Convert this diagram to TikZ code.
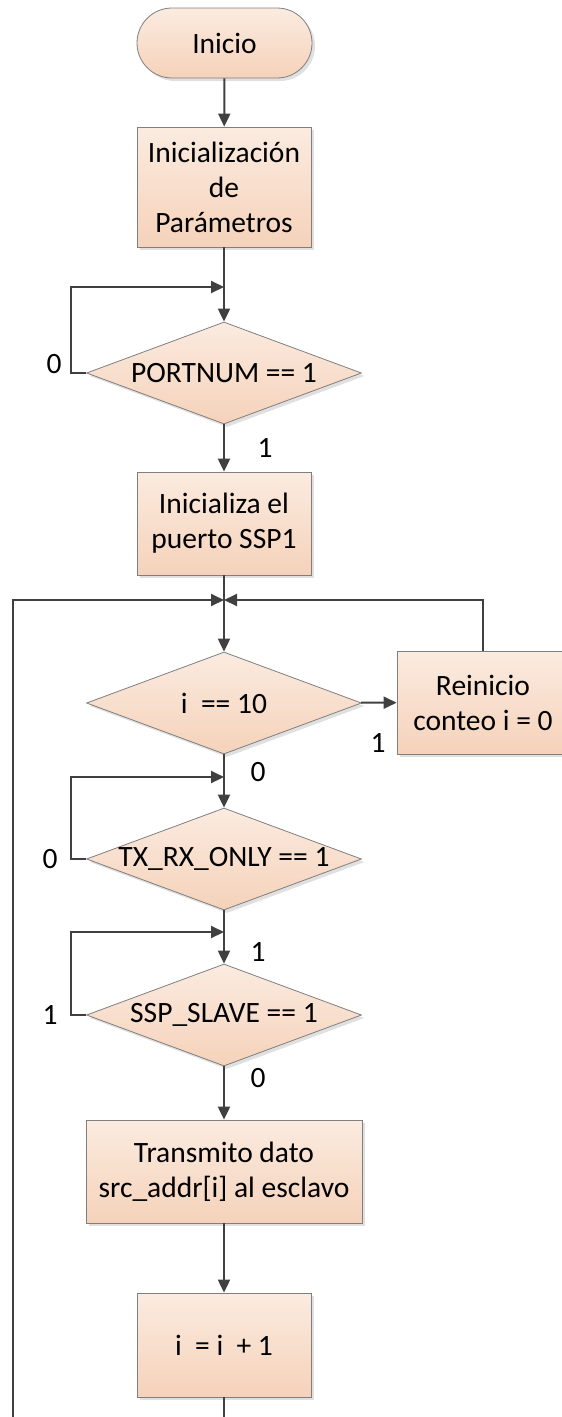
\documentclass[tikz,border=0pt]{standalone}
\usepackage{fontspec}
\setmainfont{Carlito}
\usetikzlibrary{shapes.geometric,arrows.meta,shadows}

\definecolor{linegray}{HTML}{404040}
\definecolor{edgegray}{HTML}{7F7F7F}
\definecolor{peachtop}{HTML}{FBEBE0}
\definecolor{peachbot}{HTML}{F5D2BA}

\begin{document}
\begin{tikzpicture}[x=1pt, y=-1pt,
  font=\fontsize{29.5}{35}\selectfont,
  base/.style={draw=edgegray, line width=0.8pt, top color=peachtop, bottom color=peachbot,
    inner sep=0pt, align=center, text=black,
    drop shadow={shadow xshift=3pt, shadow yshift=-3pt, fill=black!12, opacity=1}},
  terminal/.style={base, rectangle, rounded corners=35pt, minimum width=175pt, minimum height=70pt},
  proc/.style={base, rectangle, minimum width=174pt, minimum height=103pt},
  decision/.style={base, diamond, aspect=2.7, minimum width=275pt, minimum height=102pt},
  flow/.style={draw=linegray, line width=2pt, -{Triangle[length=13pt,width=12pt]}},
  lbl/.style={text=black}]
  \clip (0,0) rectangle (562,1417);

  % blocks
  \node[terminal] (start) at (224.5,43) {Inicio};
  \node[proc, minimum height=120pt] (init) at (224,187) {Inicializaci\'on\\de\\Par\'ametros};
  \node[decision] (pnum) at (224,373) {PORTNUM == 1};
  \node[proc] (ssp1) at (224,523.5) {Inicializa el\\puerto SSP1};
  \node[decision] (iten) at (224,703) {i \ == 10};
  \node[proc, minimum width=172pt] (reset) at (483,702.5) {Reinicio\\conteo i = 0};
  \node[decision] (txrx) at (224,859) {TX\_RX\_ONLY == 1};
  \node[decision] (slave) at (224,1015) {SSP\_SLAVE == 1};
  \node[proc, minimum width=276pt] (send) at (224,1171.5) {Transmito dato\\src\_addr[i] al esclavo};
  \node[proc, minimum height=104pt] (inc) at (224,1345) {i \ = i \ + 1};

  % junctions on the main line
  \coordinate (jp) at (224,287);
  \coordinate (jm) at (224,600);
  \coordinate (jt) at (224,777);
  \coordinate (js) at (224,932);
  \coordinate (lb) at (13,1440);

  % connectors
  \draw[flow] (start) -- (init);
  \draw[flow] (init) -- (pnum);
  \draw[flow] (pnum.west) -- ++(-15,0) |- (jp);
  \draw[flow] (pnum) -- (ssp1);
  \draw[flow] (ssp1) -- (iten);
  \draw[flow] (iten) -- (reset);
  \draw[flow] (reset.north) |- (jm);
  \draw[flow] (iten) -- (txrx);
  \draw[flow] (txrx.west) -- ++(-15,0) |- (jt);
  \draw[flow] (txrx) -- (slave);
  \draw[flow] (slave.west) -- ++(-15,0) |- (js);
  \draw[flow] (slave) -- (send);
  \draw[flow] (send) -- (inc);
  \draw[flow] (inc.south) |- (lb) |- (jm);

  % branch labels
  \node[lbl] (p0) at (54,364) {0};
  \node[lbl] (p1) at (265,448) {1};
  \node[lbl] (r1) at (378,743) {1};
  \node[lbl] (i0) at (258,772) {0};
  \node[lbl] (t0) at (50,859) {0};
  \node[lbl] (t1) at (258,952) {1};
  \node[lbl] (s1) at (50,1015) {1};
  \node[lbl] (s0) at (258,1078) {0};
\end{tikzpicture}
\end{document}
